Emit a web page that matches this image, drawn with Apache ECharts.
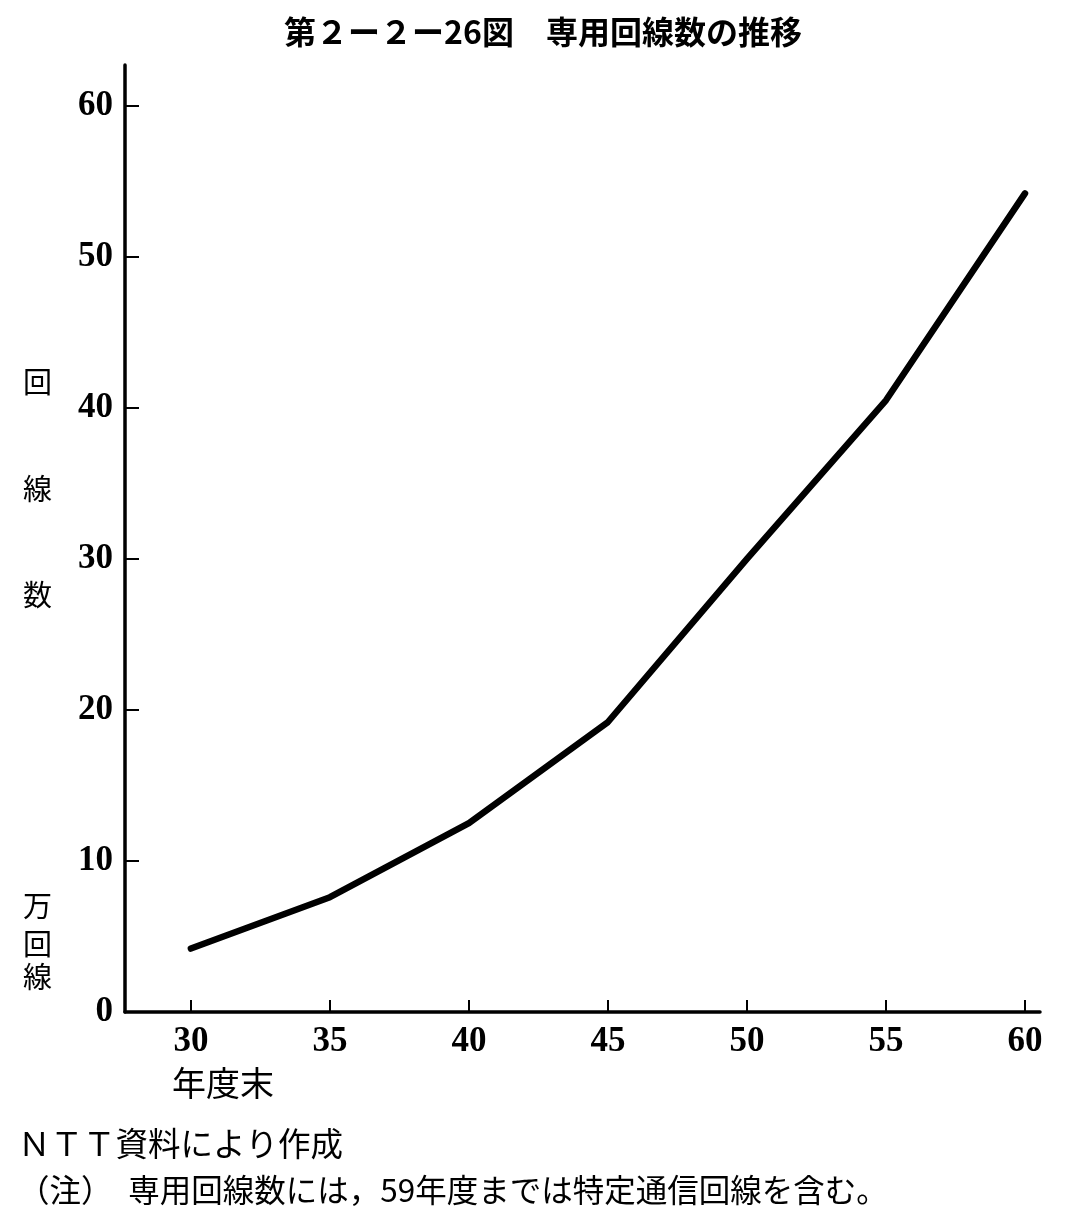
<!DOCTYPE html>
<html>
<head>
<meta charset="utf-8">
<script src="https://cdn.jsdelivr.net/npm/echarts@6/dist/echarts.min.js"></script>
<style>
html,body{margin:0;padding:0;background:#fff;}
#chart{width:1087px;height:1223px;}
</style>
</head>
<body>
<div id="chart"></div>
<script>
// Data (fiscal year end, Showa era) and values in 10,000 lines
const years = [30, 35, 40, 45, 50, 55, 60];
const lines = [4.2, 7.6, 12.5, 19.2, 30.0, 40.5, 54.2];
const xTicks = [30, 35, 40, 45, 50, 55, 60];
const yTicks = [0, 10, 20, 30, 40, 50, 60];

const titleText = '第２ー２ー26図　専用回線数の推移';
const sourceText = 'ＮＴＴ資料により作成';
const noteText = '（注）　専用回線数には，59年度までは特定通信回線を含む。';

const cjk = '"Noto Sans CJK JP", "Noto Sans CJK SC", sans-serif';
const serif = '"Liberation Serif", "DejaVu Serif", serif';

const chart = echarts.init(document.getElementById('chart'), null, {renderer: 'canvas'});

const option = {
  backgroundColor: '#ffffff',
  animation: false,
  title: {
    text: titleText,
    left: 538,
    top: 11,
    textAlign: 'center',
    textStyle: {fontFamily: cjk, fontSize: 32, fontWeight: 'bold', color: '#000'}
  },
  grid: {left: 125, right: 47, top: 65, bottom: 211, containLabel: false},
  xAxis: {
    type: 'value',
    min: 27.63,
    max: 60.54,
    splitLine: {show: false},
    axisLine: {show: true, onZero: false, lineStyle: {color: '#000', width: 3.5}},
    axisTick: {show: true, inside: true, length: 12, customValues: xTicks, lineStyle: {color: '#000', width: 2}},
    axisLabel: {customValues: xTicks, margin: 12, fontFamily: serif, fontSize: 35, fontWeight: 'bold', color: '#000'}
  },
  yAxis: {
    type: 'value',
    min: 0,
    max: 62.7,
    splitLine: {show: false},
    axisLine: {show: true, onZero: false, lineStyle: {color: '#000', width: 3.5}},
    axisTick: {show: true, inside: true, length: 14, customValues: yTicks, lineStyle: {color: '#000', width: 2}},
    axisLabel: {customValues: yTicks, margin: 12, fontFamily: serif, fontSize: 35, fontWeight: 'bold', color: '#000'}
  },
  series: [{
    type: 'line',
    data: years.map((y, i) => [y, lines[i]]),
    showSymbol: false,
    symbol: 'none',
    lineStyle: {color: '#000', width: 6.5, cap: 'round', join: 'round'}
  }],
  graphic: [
    {type: 'text', left: 23, top: 367, style: {text: '回', font: '29px ' + cjk, fill: '#000'}},
    {type: 'text', left: 23, top: 474, style: {text: '線', font: '29px ' + cjk, fill: '#000'}},
    {type: 'text', left: 23, top: 580, style: {text: '数', font: '29px ' + cjk, fill: '#000'}},
    {type: 'text', left: 23, top: 891, style: {text: '万', font: '29px ' + cjk, fill: '#000'}},
    {type: 'text', left: 23, top: 929, style: {text: '回', font: '29px ' + cjk, fill: '#000'}},
    {type: 'text', left: 23, top: 962, style: {text: '線', font: '29px ' + cjk, fill: '#000'}},
    {type: 'text', left: 172, top: 1066, style: {text: '年度末', font: '34px ' + cjk, fill: '#000'}},
    {type: 'text', left: 18, top: 1127, style: {text: sourceText, font: '32.5px ' + cjk, fill: '#000'}},
    {type: 'text', left: 18, top: 1174, style: {text: noteText, font: '31.5px ' + cjk, fill: '#000'}}
  ]
};
chart.setOption(option);
</script>
</body>
</html>
